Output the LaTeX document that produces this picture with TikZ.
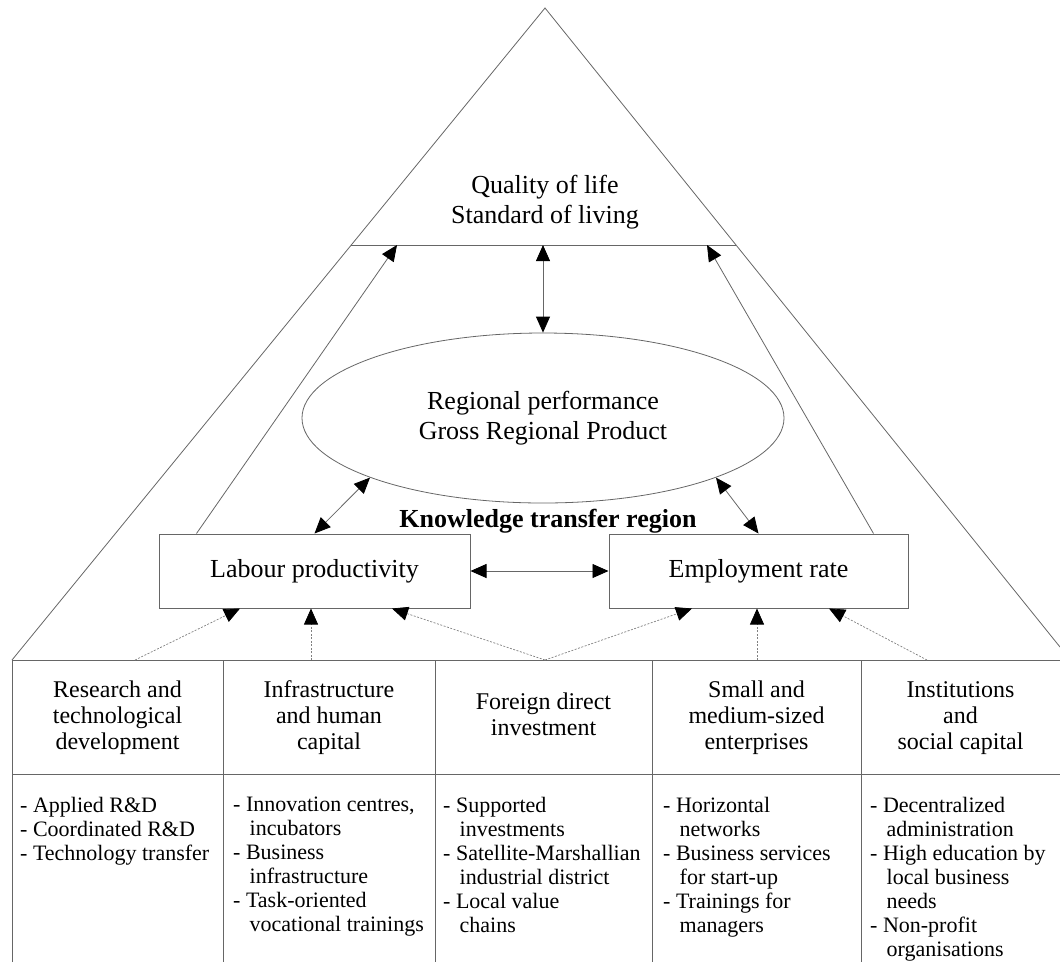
\documentclass[tikz,border=0pt]{standalone}
\usepackage{fontspec}
\setmainfont{Liberation Serif}
\usetikzlibrary{shapes.geometric,arrows.meta}
\tikzset{
  ln/.style={draw=black!60, line width=0.8pt},
  tip/.style={-{Triangle[length=16pt,width=14pt,color=black]}},
  both/.style={{Triangle[length=16pt,width=14pt,color=black]}-{Triangle[length=16pt,width=14pt,color=black]}},
  dots/.style={draw=black!50, line width=0.7pt, dash pattern=on 2pt off 1.5pt},
  bigtext/.style={align=center, font=\fontsize{26}{30}\selectfont},
  box/.style={ln, line width=1pt, minimum height=74pt, inner sep=0pt, font=\fontsize{26}{30}\selectfont},
  head/.style={align=center, font=\fontsize{24}{26}\selectfont},
  body/.style={align=left, anchor=north west, inner sep=0pt, font=\fontsize{22}{24}\selectfont}
}
\newcommand\subline{\hspace*{0.75em}}
\begin{document}
\begin{tikzpicture}[x=1pt,y=-1pt]
                \useasboundingbox (0,0) rectangle (1060,962);
                 \coordinate (apex) at (545,8);
                 \coordinate (baseL) at (12,660);
                 \coordinate (edgeR) at (1060,647);
                 \coordinate (qL) at (351,245);
                 \coordinate (qR) at (736,245);
                 \draw[ln] (baseL) -- (apex) -- (edgeR);
                 \draw[ln] (qL) -- (qR);
                 \node[bigtext] (qol) at (545,202) {Quality of life\\Standard of living};
                 \node[ellipse, ln, minimum width=482pt, minimum height=170pt, inner sep=0pt, bigtext] (perf) at (543,418) {Regional performance\\Gross Regional Product};
                 \coordinate (qM) at (perf.north |- qL);
                 \coordinate (qA) at (397,245);
                 \coordinate (qB) at (707,245);
                 \node[font=\bfseries\fontsize{26}{30}\selectfont] (ktr) at (548,521) {Knowledge transfer region};
                 \node[box, minimum width=311pt] (lab) at (314.5,571) {Labour productivity};
                 \node[box, minimum width=299pt] (emp) at (758.5,571) {Employment rate};
                 \draw[ln, both] (qM) -- (perf.north);
                 \draw[ln, both] (lab.north) -- (perf.199);
                 \draw[ln, both] (emp.north) -- (perf.341);
                 \draw[ln, both] (lab.east) -- (emp.west);
                 \draw[ln, tip] ([xshift=38pt]lab.north west) -- (qA);
                 \draw[ln, tip] ([xshift=-35pt]emp.north east) -- (qB);
                 % table
                 \draw[ln] (12,962) -- (12,660) -- (1060,660);
                 \draw[ln] (12,774) -- (1060,774);
                 \foreach \x in {223,435,652,861}
                   \draw[ln] (\x,660) -- (\x,962);
                 \node[head] (rtd) at (117.5,718) {Research and\\technological\\development};
                 \node[head] (ihc) at (329,718) {Infrastructure\\and human\\capital};
                 \node[head] (fdi) at (543.5,714) {Foreign direct\\investment};
                 \node[head] (sme) at (756.5,718) {Small and\\medium-sized\\enterprises};
                 \node[head] (isc) at (960.5,718) {Institutions\\and\\social capital};
                 \node[body] (rtdl) at (20,797) {- Applied R\&D\\- Coordinated R\&D\\- Technology transfer};
                 \node[body] (ihcl) at (233,797) {- Innovation centres,\\\subline incubators\\- Business\\\subline infrastructure\\- Task-oriented\\\subline vocational trainings};
                 \node[body] (fdil) at (443,797) {- Supported\\\subline investments\\- Satellite-Marshallian\\\subline industrial district\\- Local value\\\subline chains};
                 \node[body] (smel) at (663,797) {- Horizontal\\\subline networks\\- Business services\\\subline for start-up\\- Trainings for\\\subline managers};
                 \node[body] (iscl) at (870,797) {- Decentralized\\\subline administration\\- High education by\\\subline local business\\\subline needs\\- Non-profit\\\subline organisations};
                 % dotted links
                 \coordinate (t1) at (135,660);
                 \coordinate (t2) at (311,660);
                 \coordinate (t3) at (545,660);
                 \coordinate (t4) at (757,660);
                 \coordinate (t5) at (927,660);
                 \draw[dots, tip] (t1) -- ([xshift=-74.5pt]lab.south);
                 \draw[dots, tip] (t2) -- (t2 |- lab.south);
                 \draw[dots, tip] (t3) -- ([xshift=77.5pt]lab.south);
                 \draw[dots, tip] (t3) -- ([xshift=-66.5pt]emp.south);
                 \draw[dots, tip] (t4) -- (t4 |- emp.south);
                 \draw[dots, tip] (t5) -- ([xshift=70.5pt]emp.south);
            \end{tikzpicture}
\end{document}
